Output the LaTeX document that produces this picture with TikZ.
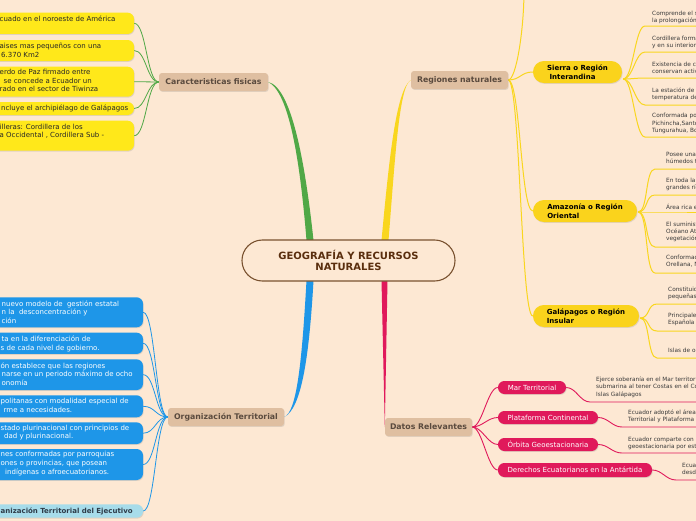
\documentclass[tikz,border=0pt]{standalone}
\usepackage{fontspec}
\setmainfont{DejaVu Sans}
\usetikzlibrary{shadows,calc}
\definecolor{paper}{HTML}{FDE8D3}
\definecolor{gbr}{HTML}{50A846}
\definecolor{ybr}{HTML}{F9D61E}
\definecolor{bbr}{HTML}{1E96E8}
\definecolor{pbr}{HTML}{E0195B}
\definecolor{tanf}{HTML}{DFBFA1}
\definecolor{tant}{HTML}{5A4A3E}
\definecolor{lemon}{HTML}{FFE81A}
\definecolor{gold}{HTML}{FAD31C}
\definecolor{lblue}{HTML}{A7DCEA}
\definecolor{ctrb}{HTML}{7A5230}
\definecolor{ctrt}{HTML}{5A2E0E}
\definecolor{smallt}{HTML}{3A3A3A}
\definecolor{darkt}{HTML}{2E3B48}
\pgfdeclarelayer{paperlayer}
\pgfdeclarelayer{linklayer}
\pgfsetlayers{paperlayer,linklayer,main}
\tikzset{
  shd/.style={drop shadow={shadow xshift=0.7pt,shadow yshift=-0.9pt,opacity=0.22}},
  ctrnode/.style={draw=ctrb, line width=1.1pt, fill=paper, rounded corners=20.4pt,
    minimum width=213pt, minimum height=41pt, align=center, text=ctrt,
    font=\bfseries\fontsize{10}{11.7}\selectfont, inner sep=0pt},
  tanbox/.style={fill=tanf, rounded corners=3pt, text=tant,
    font=\bfseries\fontsize{7.8}{9}\selectfont, minimum height=18pt, inner sep=0pt, shd},
  lembox/.style={fill=lemon, rounded corners=6.4pt, minimum width=174pt, inner sep=0pt, shd},
  bluebox/.style={fill=bbr, rounded corners=6.4pt, minimum width=183pt, inner sep=0pt, shd},
  lbluebox/.style={fill=lblue, rounded corners=6.4pt, minimum width=183pt, inner sep=0pt, shd},
  goldbox/.style={fill=gold, rounded corners=10.9pt, minimum height=22pt, inner sep=0pt,
    align=left, font=\bfseries\fontsize{7}{9}\selectfont, text=black, shd},
  pinkbox/.style={fill=pbr, rounded corners=6.4pt, text=white,
    font=\fontsize{7}{8}\selectfont, inner sep=0pt, shd},
  boxtxt/.style={anchor=north west, align=left, inner sep=0pt,
    font=\fontsize{7}{8.6}\selectfont, text=black!85, execute at begin node=\strut},
  whtxt/.style={boxtxt, text=white},
  smtxt/.style={anchor=north west, align=left, inner sep=0pt,
    font=\fontsize{5.8}{7.3}\selectfont, text=smallt, execute at begin node=\strut},
  gl/.style={draw=gbr, line width=0.8pt},
  bl/.style={draw=bbr, line width=0.8pt},
  yl/.style={draw=ybr, line width=1pt},
  pl/.style={draw=pbr, line width=0.9pt},
}
\begin{document}
\begin{tikzpicture}[x=1pt,y=-1pt]
\useasboundingbox (0,0) rectangle (696,520);
\begin{pgfonlayer}{paperlayer}
  \fill[paper] (-5,-5) rectangle (701,525);
\end{pgfonlayer}

% central and main branches
\node[ctrnode] (ctr) at (348.5,260.5) {GEOGRAFÍA Y RECURSOS\\NATURALES};
\node[tanbox, minimum width=109pt] (car) at (213.5,82) {Caracteristicas fisicas};
\node[tanbox, minimum width=97pt] (reg) at (459.5,80) {Regiones naturales};
\node[tanbox, minimum width=116pt] (org) at (226,417) {Organización Territorial};
\node[tanbox, minimum width=87pt] (dat) at (428.5,427) {Datos Relevantes};

% Caracteristicas fisicas children
\node[lembox, minimum height=21.3pt] (c1) at (47,23.3) {};
\node[lembox, minimum height=21pt] (c2) at (47,50.5) {};
\node[lembox, minimum height=30pt] (c3) at (47,81.7) {};
\node[lembox, minimum height=13pt] (c4) at (47,108.5) {};
\node[lembox, minimum height=30pt] (c5) at (47,135.7) {};
\node[boxtxt] (c1t) at (-0.5,15.6) {cuado en el noroeste de América};
\node[boxtxt] (c2t) at (-0.5,43) {aises mas pequeños con una\\\hspace*{1.5pt}6.370 Km2};
\node[boxtxt] (c3t) at (-0.5,69) {erdo de Paz firmado entre\\\hspace*{4pt}se concede a Ecuador un\\rado en el sector de Tiwinza};
\node[boxtxt] (c4t) at (-0.5,104.6) {\hspace*{1.5pt}ncluye el archipiélago de Galápagos};
\node[boxtxt] (c5t) at (-0.5,123.6) {illeras: Cordillera de los\\a Occidental , Cordillera Sub -};

% Organizacion Territorial children
\node[bluebox, minimum height=30pt] (o1) at (51.5,312.3) {};
\node[bluebox, minimum height=21.3pt] (o2) at (51.5,343.3) {};
\node[bluebox, minimum height=30.7pt] (o3) at (51.5,374.7) {};
\node[bluebox, minimum height=22pt] (o4) at (51.5,406.3) {};
\node[bluebox, minimum height=21.7pt] (o5) at (51.5,433.2) {};
\node[bluebox, minimum height=31pt] (o6) at (51.5,464.5) {};
\node[lbluebox, minimum height=13.4pt] (o7) at (51.5,511) {};
\node[whtxt] (o1t) at (1.5,300.3) {nuevo modelo de \ gestión estatal\\n la \ desconcentración y\\ción};
\node[whtxt] (o2t) at (0.5,335.6) {\hspace*{1pt}ta en la diferenciación de\\s de cada nivel de gobierno.};
\node[whtxt] (o3t) at (0.5,362.3) {ón establece que las regiones\\\hspace*{1pt}narse en un periodo máximo de ocho\\\hspace*{1pt}onomía};
\node[whtxt] (o4t) at (0.5,398) {politanas con modalidad especial de\\\hspace*{3pt}rme a necesidades.};
\node[whtxt] (o5t) at (0.5,424.6) {stado plurinacional con principios de\\\hspace*{3.5pt}dad y plurinacional.};
\node[whtxt] (o6t) at (0.5,451.3) {nes conformadas por parroquias\\ones o provincias, que posean\\\hspace*{4.5pt}indígenas o afroecuatorianos.};
\node[boxtxt, text=darkt, font=\bfseries\fontsize{7}{8.6}\selectfont] (o7t) at (0.5,507.2) {anización Territorial del Ejecutivo};

% Regiones naturales children
\node[goldbox, minimum width=89pt] (sie) at (577.5,72) {Sierra o Región\\\hspace*{2.5pt}Interandina};
\node[goldbox, minimum width=104pt] (ama) at (585,211) {Amazonía o Región\\Oriental};
\node[goldbox, minimum width=106pt] (gal) at (586,316) {Galápagos o Región\\Insular};

\node[smtxt] (s1) at (652,10.3) {Comprende el sistema montañoso\\la prolongación de los Andes};
\node[smtxt] (s2) at (652,35.6) {Cordillera formada por dos ramales\\y en su interior hay valles};
\node[smtxt] (s3) at (652,61.6) {Existencia de conos volcánicos que\\conservan actividad};
\node[smtxt] (s4) at (652,87.3) {La estación de lluvias y\\temperatura de la región};
\node[smtxt] (s5) at (652,113.3) {Conformada por Carchi, Imbabura,\\Pichincha,Santo Domingo, Cotopaxi,\\Tungurahua, Bolívar, Chimborazo};

\node[smtxt] (a1) at (666,151.6) {Posee una vegetación\\húmedos tropicales};
\node[smtxt] (a2) at (666,177.6) {En toda la región\\grandes ríos};
\node[smtxt] (a3) at (666,203.6) {Área rica en petróleo};
\node[smtxt] (a4) at (666,221.6) {El suministro de agua\\Océano Atlántico\\vegetación};
\node[smtxt] (a5) at (666,254.6) {Conformada por\\Orellana, Napo};

\node[smtxt] (g1) at (668,286.6) {Constituida por\\pequeñas islas};
\node[smtxt] (g2) at (668,312.6) {Principales islas\\Española};
\node[smtxt] (g3) at (668,347.6) {Islas de origen};

% Datos Relevantes children
\node[pinkbox, minimum width=68pt, minimum height=13pt] (mar) at (532,387.5) {Mar Territorial};
\node[pinkbox, minimum width=100pt, minimum height=13pt] (plat) at (548,417.5) {Plataforma Continental};
\node[pinkbox, minimum width=100pt, minimum height=13pt] (orb) at (548,444.5) {Órbita Geoestacionaria};
\node[pinkbox, minimum width=154pt, minimum height=14pt] (der) at (575,470) {Derechos Ecuatorianos en la Antártida};

\node[smtxt] (m1) at (596,376.6) {Ejerce soberanía en el Mar territorial\\submarina al tener Costas en el Continente\\Islas Galápagos};
\node[smtxt] (p1) at (628,409.6) {Ecuador adoptó el área del Mar\\Territorial y Plataforma Continental};
\node[smtxt] (q1) at (628,436.6) {Ecuador comparte con la órbita\\geoestacionaria por estar};
\node[smtxt] (d1) at (682,462.6) {Ecuador\\desde};

\begin{pgfonlayer}{linklayer}
  % tapered main branches
  \fill[gbr] ($(ctr.north)+(-42,1)$) .. controls (300,160) and (289,92) .. (car.east)
     .. controls (291,87) and (305,160) .. ($(ctr.north)+(-35,1)$) -- cycle;
  \fill[ybr] ($(ctr.north)+(33,1)$) .. controls (389,160) and (396,90) .. (reg.west)
     .. controls (399,86) and (395,160) .. ($(ctr.north)+(40,1)$) -- cycle;
  \fill[bbr] ($(ctr.south)+(-42,-1)$) .. controls (302,360) and (297,412) .. (org.east)
     .. controls (301,409) and (309,360) .. ($(ctr.south)+(-35,-1)$) -- cycle;
  \fill[pbr] ($(ctr.south)+(33,-1)$) -- (dat.west) -- ($(ctr.south)+(39,-1)$) -- cycle;

  % green connectors
  \foreach \b in {c1,c2,c3,c4,c5}
    \draw[gl] (car.west) to[out=180,in=0,out distance=12pt,in distance=12pt] (\b.east);
  % blue connectors
  \foreach \b in {o1,o2,o3,o4,o5,o6,o7}
    \draw[bl] (org.west) to[out=180,in=0,out distance=12pt,in distance=12pt] (\b.east);
  % pink connectors
  \foreach \b in {mar,plat,orb,der}
    \draw[pl] (dat.east) to[out=0,in=180,out distance=10pt,in distance=10pt] (\b.west);
  % yellow connectors
  \coordinate (offtop) at (524,-10);
  \draw[yl] (reg.east) to[out=0,in=-90,out distance=8pt,in distance=40pt] (offtop);
  \foreach \b in {sie,ama,gal}
    \draw[yl] (reg.east) to[out=0,in=180,out distance=12pt,in distance=12pt] (\b.west);

  \coordinate (rim) at (720,0);
  \coordinate (sieO) at ($(sie.east)+(1,7)$);
  \foreach \y [count=\n] in {26,52,78,105,137} {
    \coordinate (su\n) at (645,\y);
    \draw[yl] (sieO) to[out=0,in=180,out distance=10pt,in distance=10pt] (su\n) -- (su\n -| rim);
  }
  \coordinate (amaO) at ($(ama.east)+(1,1)$);
  \foreach \y [count=\n] in {169,195,212,247,273} {
    \coordinate (au\n) at (655,\y);
    \draw[yl] (amaO) to[out=0,in=180,out distance=10pt,in distance=10pt] (au\n) -- (au\n -| rim);
  }
  \coordinate (galO) at ($(gal.east)+(1,2)$);
  \foreach \y [count=\n] in {304,331,358} {
    \coordinate (gu\n) at (657,\y);
    \draw[yl] (galO) to[out=0,in=180,out distance=10pt,in distance=10pt] (gu\n) -- (gu\n -| rim);
  }
  % pink underlines
  \coordinate (mu) at (590,402);
  \coordinate (pu) at (622,427);
  \coordinate (qu) at (622,453);
  \coordinate (du) at (676,480);
  \draw[pl] (mar.east) to[out=0,in=180,out distance=10pt,in distance=10pt] (mu) -- (mu -| rim);
  \draw[pl] (plat.east) to[out=0,in=180,out distance=10pt,in distance=10pt] (pu) -- (pu -| rim);
  \draw[pl] (orb.east) to[out=0,in=180,out distance=10pt,in distance=10pt] (qu) -- (qu -| rim);
  \draw[pl] (der.east) to[out=0,in=180,out distance=10pt,in distance=10pt] (du) -- (du -| rim);
\end{pgfonlayer}
\end{tikzpicture}
\end{document}
